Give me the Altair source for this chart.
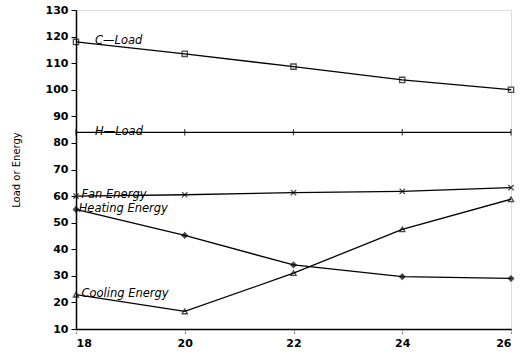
import altair as alt
import pandas as pd

x_vals = [18, 20, 22, 24, 26]
c_load = [118, 113.5, 108.7, 103.7, 100]
h_load = [84, 84, 84, 84, 84]
fan_energy = [60, 60.5, 61.3, 61.8, 63.2]
heating_energy = [55, 45.2, 34.1, 29.7, 29]
cooling_energy = [22.9, 16.6, 31, 47.5, 58.8]
y_ticks = [10, 20, 30, 40, 50, 60, 70, 80, 90, 100, 110, 120, 130]

series_names = ["C-Load", "H-Load", "Fan Energy", "Heating Energy", "Cooling Energy"]
series_vals = [c_load, h_load, fan_energy, heating_energy, cooling_energy]
series_shapes = ["square", "M0,-1.2L0,1.2", "M-1,-1L1,1M-1,1L1,-1", "diamond", "triangle-up"]
series_fills = ["transparent", "transparent", "transparent", "black", "transparent"]

label_texts = ["C\u2014Load", "H\u2014Load", "Fan Energy", "Heating Energy", "Cooling Energy"]
label_x = [18.35, 18.35, 18.1, 18.05, 18.1]
label_y = [118.5, 84, 60.3, 55, 23]

rows = []
for name, vals in zip(series_names, series_vals):
    for xv, yv in zip(x_vals, vals):
        rows.append({"x": xv, "y": yv, "series": name})
df = pd.DataFrame(rows)
lab = pd.DataFrame({"x": label_x, "y": label_y, "text": label_texts})

xs = alt.Scale(domain=[18, 26], nice=False)
ys = alt.Scale(domain=[10, 130], nice=False)

x_axis = alt.Axis(values=x_vals, title=None, grid=False, labelOverlap=False,
                  labelFont="DejaVu Sans", labelFontWeight="bold", labelFontSize=11,
                  labelColor="black", tickColor="black", domainColor="black",
                  tickSize=4, labelPadding=4, tickDash=[1, 2], domainWidth=1.5)
y_axis = alt.Axis(values=y_ticks, title="Load or Energy", grid=False, labelOverlap=False,
                  labelFont="DejaVu Sans", labelFontWeight="bold", labelFontSize=11,
                  labelColor="black", tickColor="black", domainColor="black",
                  tickSize=5, labelPadding=3, titlePadding=24, titleFontSize=10,
                  titleFont="DejaVu Sans", titleFontWeight="normal", titleColor="black",
                  domainWidth=1.5)

x_enc = alt.X("x:Q", scale=xs, axis=x_axis)
y_enc = alt.Y("y:Q", scale=ys, axis=y_axis)

base = alt.Chart(df)
lines = base.mark_line(color="black", strokeWidth=1.3).encode(
    x=x_enc, y=y_enc, detail="series:N",
)
pts = base.mark_point(color="black", size=28, strokeWidth=1.3).encode(
    x=x_enc, y=y_enc,
    shape=alt.Shape("series:N", scale=alt.Scale(domain=series_names, range=series_shapes), legend=None),
    fill=alt.Fill("series:N", scale=alt.Scale(domain=series_names, range=series_fills), legend=None),
)
texts = alt.Chart(lab).mark_text(align="left", baseline="middle", font="DejaVu Sans",
                                  fontSize=11.5, fontStyle="italic", color="black").encode(
    x=x_enc, y=y_enc, text="text:N",
)

chart = (lines + pts + texts).properties(
    width=435, height=319,
    autosize=alt.AutoSizeParams(type="none"),
    padding={"left": 76, "top": 10, "right": 10, "bottom": 26},
).configure_view(stroke="black", strokeWidth=1.5).configure(background="white")

chart.save("out.html", embed_options={"renderer": "svg", "actions": False})
